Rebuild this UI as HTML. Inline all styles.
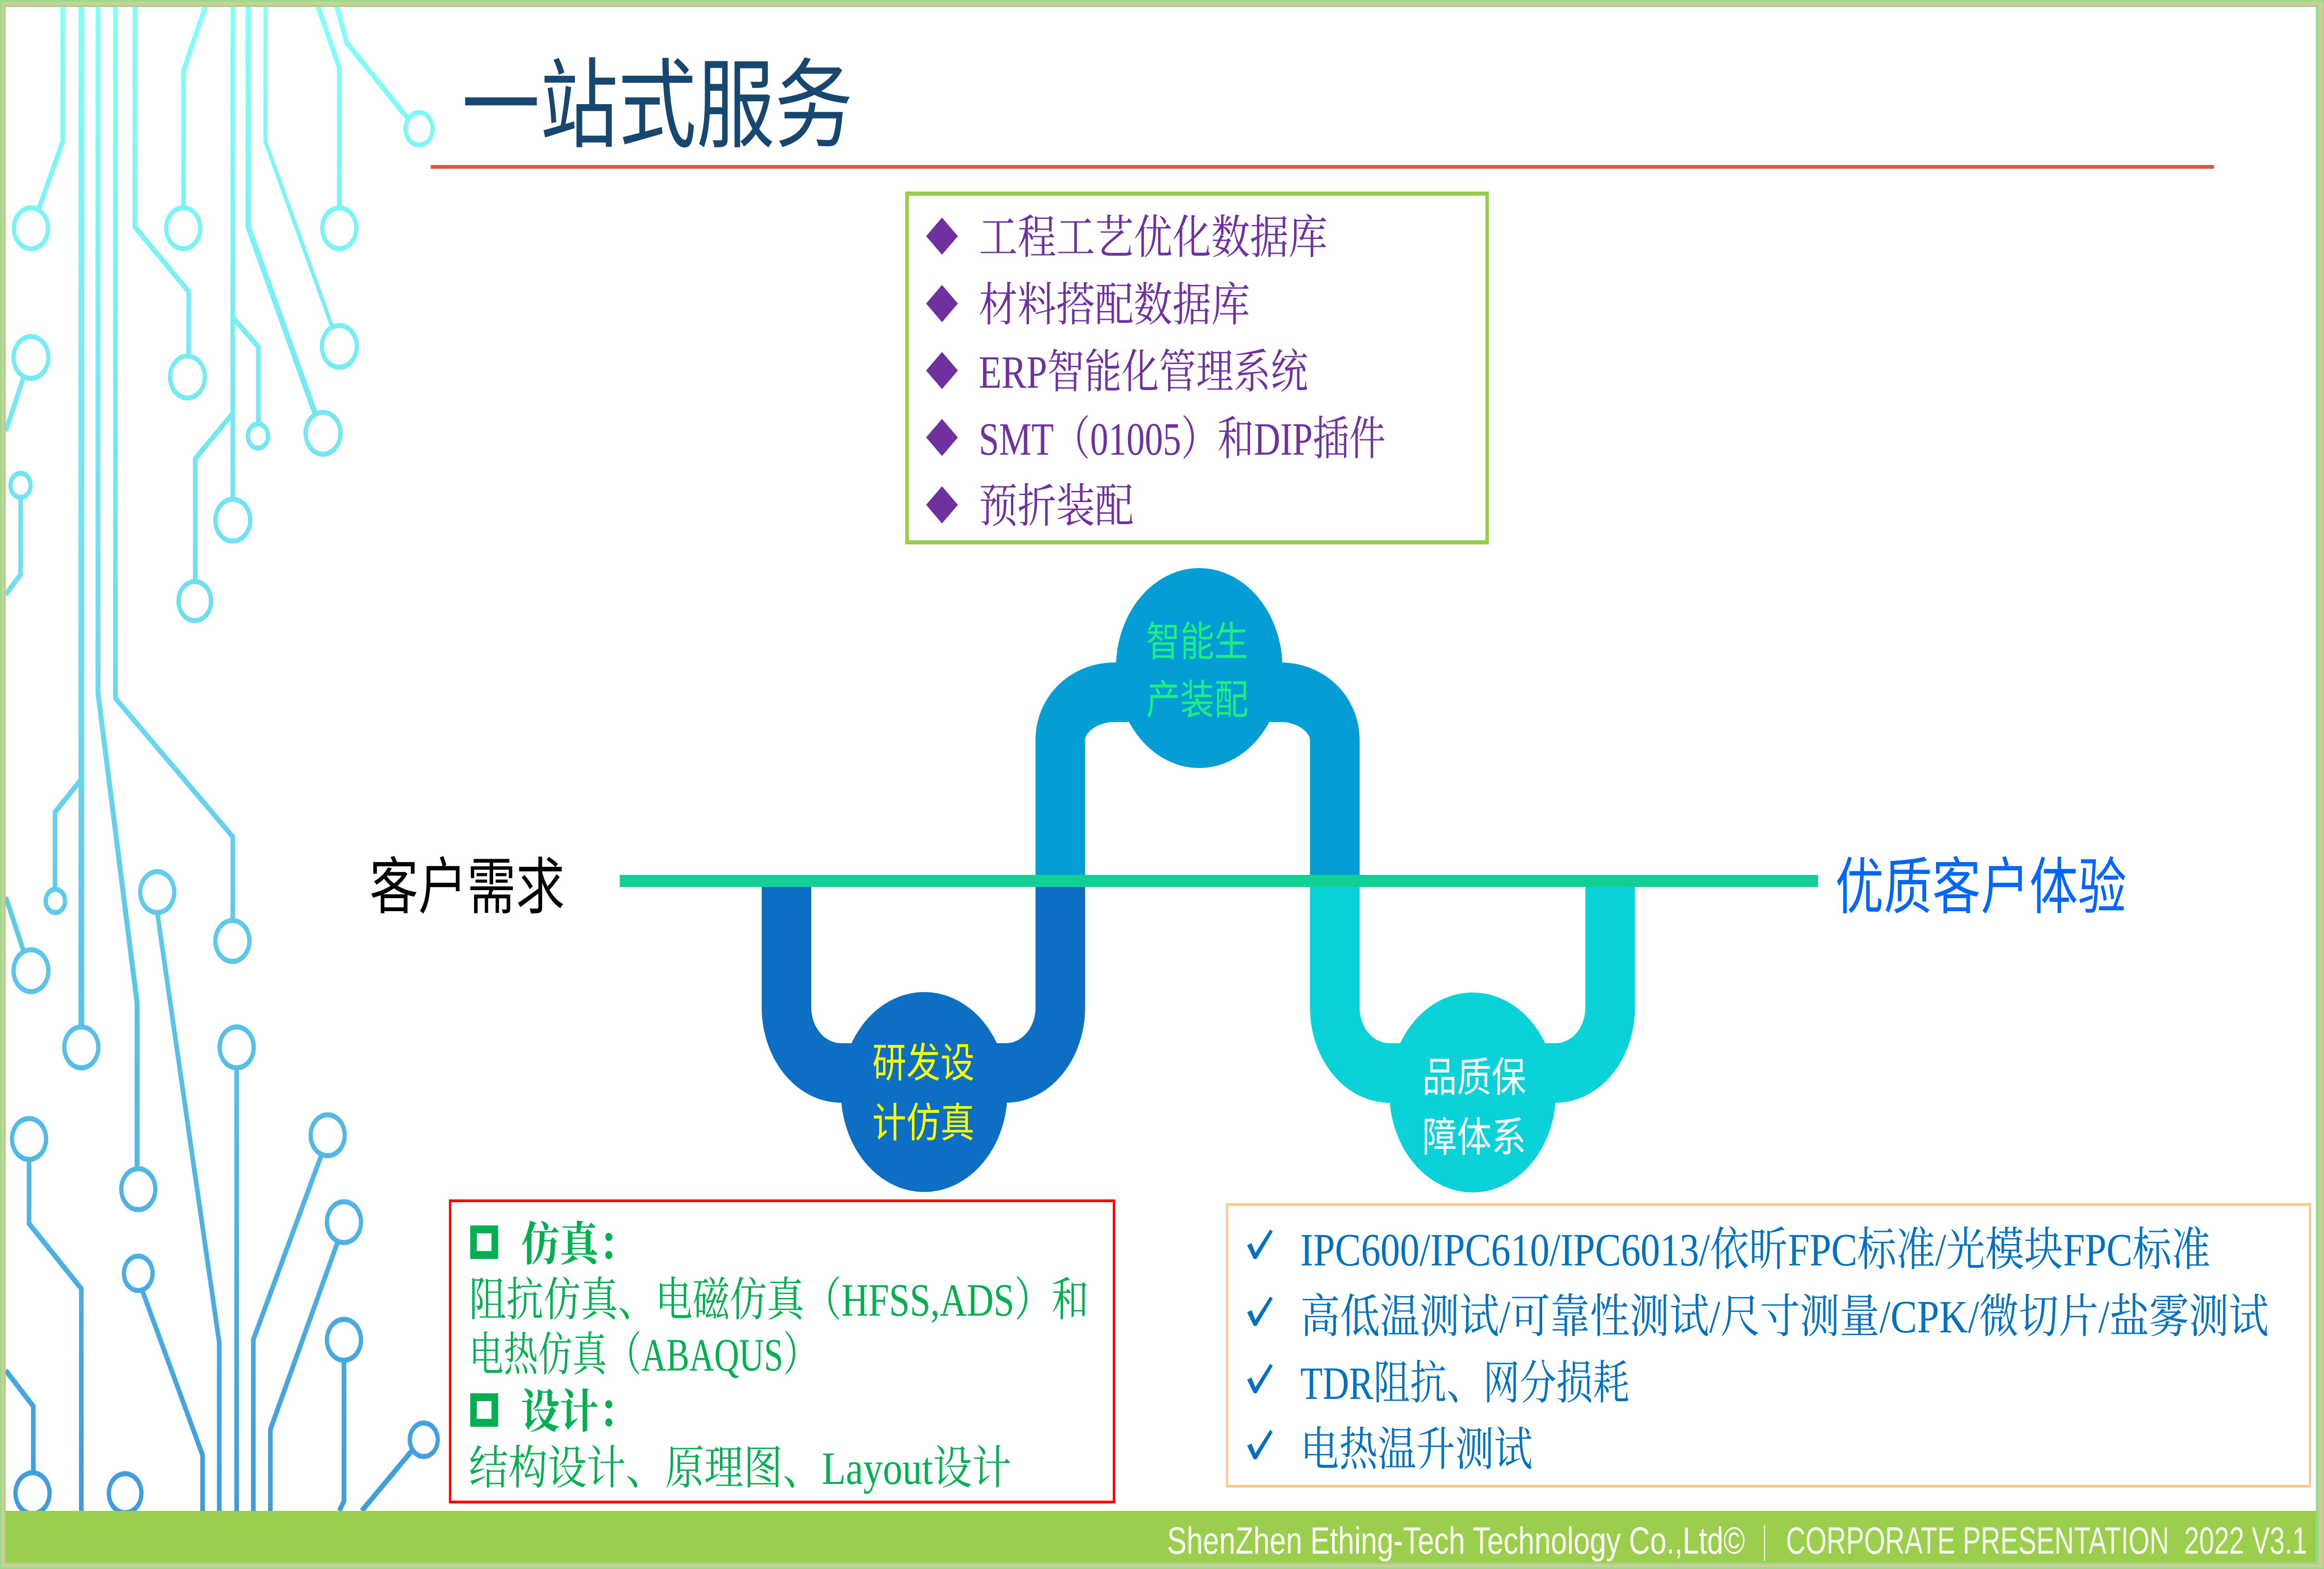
<!DOCTYPE html>
<html><head><meta charset="utf-8"><style>
html,body{margin:0;padding:0;background:#fff;width:100%;height:100%;overflow:hidden;}
svg{display:block;position:fixed;left:0;top:0;width:100vw;height:100vh;}
</style></head><body>
<svg viewBox="0 0 6000 3375" preserveAspectRatio="none" xmlns="http://www.w3.org/2000/svg">
<defs>
<linearGradient id="cg" gradientUnits="userSpaceOnUse" x1="0" y1="0" x2="0" y2="3250">
<stop offset="0" stop-color="#84fff9"/>
<stop offset="0.5" stop-color="#68d6ee"/>
<stop offset="1" stop-color="#3e9cdc"/>
</linearGradient>
</defs>
<rect x="0" y="0" width="6000" height="3375" fill="#ffffff"/>

<!-- circuit decoration -->
<g fill="none" stroke="url(#cg)" stroke-width="12" stroke-linejoin="miter">
<path d="M162,0 V304 L100,450"/>
<path d="M210,0 V2209" stroke-width="15"/>
<path d="M210,1676 L142,1747 V1913"/>
<path d="M253,0 V1491 L354,2158 V2514" stroke-width="13"/>
<path d="M298,0 V1502 L601,1800 V1980"/>
<path d="M348,0 V488 L487,627 V766"/>
<path d="M536,0 L474,152 V447"/>
<path d="M601,0 V1074"/>
<path d="M601,683 L667,746 V912"/>
<path d="M601,889 L504,987 V1251"/>
<path d="M641,0 V488 L815,893" stroke-width="14"/>
<path d="M685,0 V304 L858,704" stroke-width="10"/>
<path d="M815,0 L876,146 V447"/>
<path d="M865,0 L895,92 L1054,256"/>
<path d="M15,927 L61,811"/>
<path d="M53,1070 V1236 L15,1279"/>
<path d="M15,1930 L61,2046"/>
<path d="M75,2494 V2632 L210,2772 V3250"/>
<path d="M15,2948 L86,3025 V3168"/>
<path d="M366,2773 L523,3130 V3250"/>
<path d="M406,1963 L566,2888 V3250"/>
<path d="M611,2297 V3250"/>
<path d="M830,2484 L654,2882 V3250"/>
<path d="M872,2671 L698,3075 V3250"/>
<path d="M888,2926 V3229 L876,3250"/>
<path d="M1064,3120 L934,3250"/>
</g>
<g fill="none" stroke="url(#cg)" stroke-width="11">
<circle cx="80" cy="491" r="44"/>
<circle cx="210" cy="2253" r="44"/>
<circle cx="357" cy="2558" r="44"/>
<circle cx="600" cy="2024" r="44"/>
<circle cx="484" cy="811" r="45"/>
<circle cx="473" cy="491" r="44"/>
<circle cx="601" cy="1119" r="45"/>
<circle cx="666" cy="938" r="26"/>
<circle cx="503" cy="1293" r="42"/>
<circle cx="834" cy="932" r="45"/>
<circle cx="876" cy="745" r="45"/>
<circle cx="876" cy="491" r="44"/>
<circle cx="1082" cy="277" r="35"/>
<circle cx="80" cy="769" r="45"/>
<circle cx="53" cy="1044" r="26"/>
<circle cx="143" cy="1938" r="25"/>
<circle cx="80" cy="2088" r="45"/>
<circle cx="75" cy="2450" r="44"/>
<circle cx="84" cy="3212" r="44"/>
<circle cx="323" cy="3212" r="42"/>
<circle cx="357" cy="2739" r="37"/>
<circle cx="406" cy="1919" r="44"/>
<circle cx="611" cy="2253" r="44"/>
<circle cx="846" cy="2442" r="44"/>
<circle cx="888" cy="2629" r="44"/>
<circle cx="888" cy="2882" r="44"/>
<circle cx="1094" cy="3097" r="36"/>
</g>

<!-- title -->
<text x="1192" y="300" font-size="210" textLength="1010" lengthAdjust="spacingAndGlyphs" fill="#17466e" font-family="'Liberation Sans','Noto Sans CJK SC',sans-serif">一站式服务</text>
<rect x="1112" y="355" width="4604" height="8" fill="#d35a44"/>

<!-- top box -->
<rect x="2341.5" y="416.5" width="1498" height="750" fill="none" stroke="#96cd4e" stroke-width="9"/>
<g fill="#7030a0">
<polygon points="2432,468 2473,508 2432,548 2391,508"/>
<polygon points="2432,613 2473,653 2432,693 2391,653"/>
<polygon points="2432,757 2473,797 2432,837 2391,797"/>
<polygon points="2432,901 2473,941 2432,981 2391,941"/>
<polygon points="2432,1046 2473,1086 2432,1126 2391,1086"/>
</g>
<g fill="#7030a0" font-size="100" font-family="'Liberation Serif','Noto Serif CJK SC',serif">
<text x="2527" y="545" textLength="900" lengthAdjust="spacingAndGlyphs">工程工艺优化数据库</text>
<text x="2527" y="690" textLength="700" lengthAdjust="spacingAndGlyphs">材料搭配数据库</text>
<text x="2527" y="834" textLength="850" lengthAdjust="spacingAndGlyphs">ERP智能化管理系统</text>
<text x="2527" y="978" textLength="1050" lengthAdjust="spacingAndGlyphs">SMT（01005）和DIP插件</text>
<text x="2527" y="1123" textLength="400" lengthAdjust="spacingAndGlyphs">预折装配</text>
</g>

<!-- pipes -->
<g fill="none" stroke-width="128">
<path d="M2030.5,1895 V2167 A141,141 0 0 0 2171.5,2308 H2596.5 A141,141 0 0 0 2737.5,2167 V1895" stroke="#0d6fc3"/>
<path d="M3446,1895 V2167 A141,141 0 0 0 3587,2308 H4016 A141,141 0 0 0 4157,2167 V1895" stroke="#0bd1d9"/>
<path d="M2737.5,1895 V1591 A140,102 0 0 1 2877.5,1489 H3306 A140,102 0 0 1 3446,1591 V1895" stroke="#049dd6"/>
</g>
<rect x="1600" y="1882" width="3094" height="26" fill="#12cf96"/>
<circle cx="3096" cy="1437" r="215" fill="#049dd6"/>
<circle cx="2386" cy="2349" r="215" fill="#0d6fc3"/>
<circle cx="3802" cy="2350" r="215" fill="#0bd1d9"/>
<g font-size="88" font-family="'Liberation Sans','Noto Sans CJK SC',sans-serif">
<text x="2959" y="1411" textLength="264" lengthAdjust="spacingAndGlyphs" fill="#1bf07f">智能生</text>
<text x="2959" y="1536" textLength="264" lengthAdjust="spacingAndGlyphs" fill="#1bf07f">产装配</text>
<text x="2252" y="2317" textLength="264" lengthAdjust="spacingAndGlyphs" fill="#ffff00">研发设</text>
<text x="2252" y="2446" textLength="264" lengthAdjust="spacingAndGlyphs" fill="#ffff00">计仿真</text>
<text x="3672" y="2348" textLength="268" lengthAdjust="spacingAndGlyphs" fill="#ffffff">品质保</text>
<text x="3672" y="2477" textLength="268" lengthAdjust="spacingAndGlyphs" fill="#ffffff">障体系</text>
</g>
<g font-size="133" font-family="'Liberation Sans','Noto Sans CJK SC',sans-serif">
<text x="954" y="1954" textLength="504" lengthAdjust="spacingAndGlyphs" fill="#000000">客户需求</text>
<text x="4738" y="1954" textLength="752" lengthAdjust="spacingAndGlyphs" fill="#0066ff">优质客户体验</text>
</g>

<!-- red box -->
<rect x="1162" y="2583" width="1714" height="648" fill="none" stroke="#ff0000" stroke-width="6"/>
<rect x="1222.5" y="2644.5" width="55" height="55" fill="none" stroke="#00b050" stroke-width="17"/>
<rect x="1222.5" y="3005.5" width="55" height="55" fill="none" stroke="#00b050" stroke-width="17"/>
<g fill="#00b050" font-size="100" font-family="'Liberation Serif','Noto Serif CJK SC',serif">
<text x="1345" y="2711" font-weight="bold">仿真：</text>
<text x="1211" y="2830" textLength="1600" lengthAdjust="spacingAndGlyphs">阻抗仿真、电磁仿真（HFSS,ADS）和</text>
<text x="1211" y="2948" textLength="900" lengthAdjust="spacingAndGlyphs">电热仿真（ABAQUS）</text>
<text x="1345" y="3071" font-weight="bold">设计：</text>
<text x="1211" y="3192" textLength="1400" lengthAdjust="spacingAndGlyphs">结构设计、原理图、Layout设计</text>
</g>

<!-- orange box -->
<rect x="3168" y="2591" width="2796" height="606" fill="none" stroke="#f9c98d" stroke-width="6"/>
<g fill="#0070c0">
<path transform="translate(3220,2645)" d="M0,34 L11,29 L21,50 L59,0 L66,4 L24,63 L17,63 Z"/>
<path transform="translate(3220,2789)" d="M0,34 L11,29 L21,50 L59,0 L66,4 L24,63 L17,63 Z"/>
<path transform="translate(3220,2934)" d="M0,34 L11,29 L21,50 L59,0 L66,4 L24,63 L17,63 Z"/>
<path transform="translate(3220,3076)" d="M0,34 L11,29 L21,50 L59,0 L66,4 L24,63 L17,63 Z"/>
</g>
<g fill="#0070c0" font-size="100" font-family="'Liberation Serif','Noto Serif CJK SC',serif">
<text x="3357" y="2722" textLength="2350" lengthAdjust="spacingAndGlyphs">IPC600/IPC610/IPC6013/依昕FPC标准/光模块FPC标准</text>
<text x="3357" y="2866" textLength="2500" lengthAdjust="spacingAndGlyphs">高低温测试/可靠性测试/尺寸测量/CPK/微切片/盐雾测试</text>
<text x="3357" y="3009" textLength="850" lengthAdjust="spacingAndGlyphs">TDR阻抗、网分损耗</text>
<text x="3357" y="3152" textLength="600" lengthAdjust="spacingAndGlyphs">电热温升测试</text>
</g>

<!-- footer -->
<rect x="15" y="3250" width="5964" height="111" fill="#9bce4c"/>
<g fill="#ffffff" font-size="82" font-family="'Liberation Sans',sans-serif">
<text x="3013" y="3342" textLength="1492" lengthAdjust="spacingAndGlyphs">ShenZhen Ething-Tech Technology Co.,Ltd©</text>
<text x="4611" y="3342" textLength="1346" lengthAdjust="spacingAndGlyphs" style="white-space:pre" fill="#f6faef">CORPORATE PRESENTATION  2022 V3.1</text>
</g>
<rect x="4554" y="3281" width="3" height="77" fill="#ffffff"/>

<!-- frame -->
<path fill="#9bd98a" fill-rule="evenodd" d="M0,0H6000V3375H0Z M15,15V3361H5979V15Z"/>
<path fill="#d4cc98" fill-rule="evenodd" d="M4,4H5996V3371H4Z M11,11V3365H5987V11Z"/>
</svg>
</body></html>
